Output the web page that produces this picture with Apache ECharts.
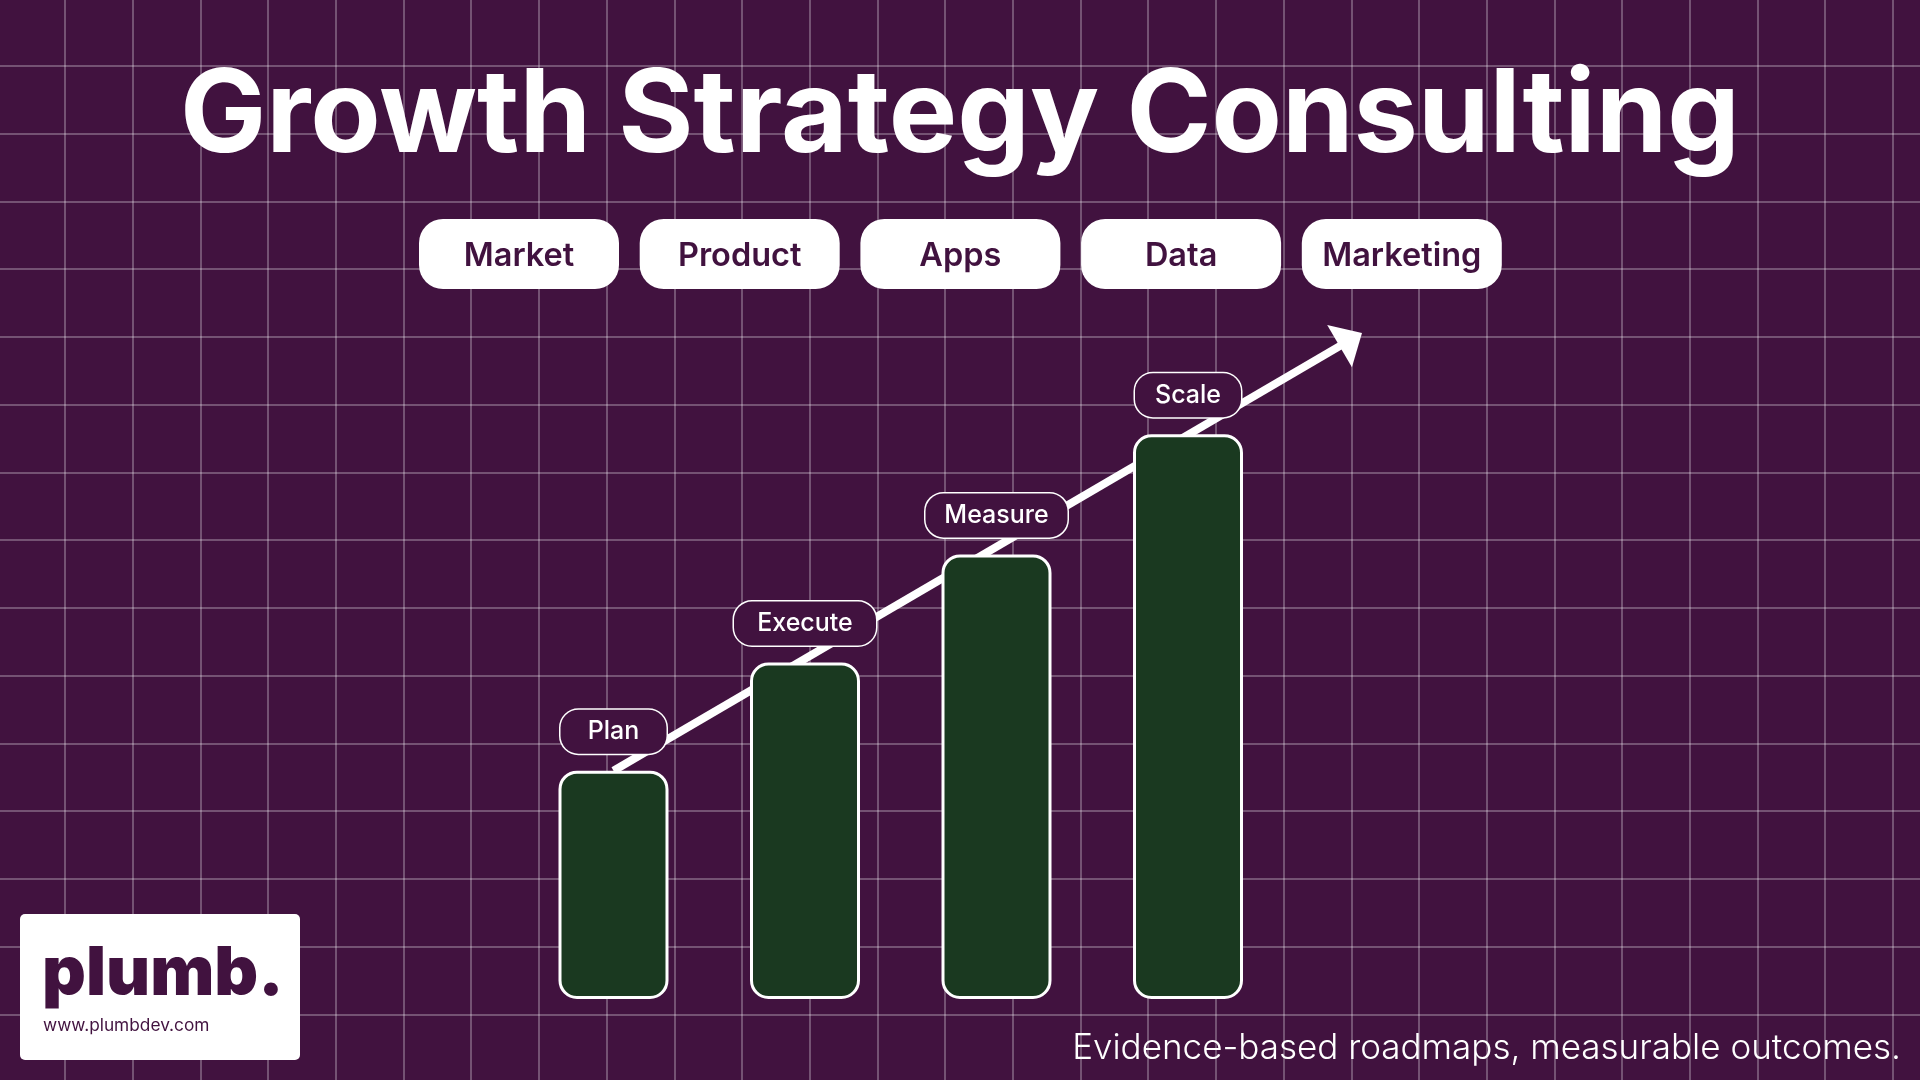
<!DOCTYPE html>
<html>
<head>
<meta charset="utf-8">
<title>Growth Strategy Consulting</title>
<style>
html,body{margin:0;padding:0;background:#41123f;}
#main{width:1920px;height:1080px;}
</style>
<script src="https://cdn.jsdelivr.net/npm/echarts@6/dist/echarts.min.js"></script>
</head>
<body>
<div id="main"></div>
<script>
// values
var stages=['Plan','Execute','Measure','Scale'];
var stageValues=[38,56,74,94];
var topics=['Market','Product','Apps','Data','Marketing'];
var arrowX=[0,3.85];
var arrowY=[38,109.75];

var FONT='Inter';
var PLUM='#41123f';
var GREEN='#1a3920';
var pillWidth={Plan:106,Execute:142,Measure:142,Scale:106};

var chart=echarts.init(document.getElementById('main'));

// top row of white pills
var pills=[];
topics.forEach(function(name,i){
    var x=419+i*220.7;
    pills.push({type:'rect',z:10,shape:{x:x,y:219,width:200,height:70,r:24},style:{fill:'#fff'}});
    pills.push({type:'text',z:11,x:x+100,y:256,style:{text:name,fill:PLUM,font:'600 32.5px '+FONT,textAlign:'center',textVerticalAlign:'middle'}});
});

var options={
    backgroundColor:PLUM,
    animation:false,
    grid:[
        {left:-2.7,top:-2,width:1963.3,height:1151.9,outerBoundsMode:'none'},
        {left:422,top:278,width:1149,height:721,outerBoundsMode:'none'}
    ],
    xAxis:[
        {gridIndex:0,type:'value',min:0,max:29,interval:1,
            axisLine:{show:false},axisTick:{show:false},axisLabel:{show:false},
            splitLine:{show:true,lineStyle:{color:'rgba(255,255,255,0.36)',width:1.5}}},
        {gridIndex:1,type:'value',min:-1,max:5,show:false,splitLine:{show:false}}
    ],
    yAxis:[
        {gridIndex:0,type:'value',min:0,max:17,interval:1,inverse:true,
            axisLine:{show:false},axisTick:{show:false},axisLabel:{show:false},
            splitLine:{show:true,lineStyle:{color:'rgba(255,255,255,0.36)',width:1.5}}},
        {gridIndex:1,type:'value',min:0,max:120,show:false,splitLine:{show:false}}
    ],
    series:[
        {
            // the arrow runs behind the bars
            name:'arrow',
            type:'line',
            xAxisIndex:1,
            yAxisIndex:1,
            z:2,
            silent:true,
            showSymbol:false,
            lineStyle:{opacity:0},
            data:[[arrowX[0],arrowY[0]],[arrowX[1],arrowY[1]]],
            markLine:{
                silent:true,
                animation:false,
                z:2,
                symbol:['none','triangle'],
                symbolSize:[49,26],
                label:{show:false},
                lineStyle:{color:'#fff',width:8,type:'solid',opacity:1},
                data:[[{coord:[arrowX[0],arrowY[0]]},{coord:[arrowX[1],arrowY[1]]}]]
            }
        },
        {
            name:'stage',
            type:'bar',
            xAxisIndex:1,
            yAxisIndex:1,
            z:3,
            barWidth:110,
            itemStyle:{color:GREEN,borderColor:'#fff',borderWidth:3,borderRadius:17},
            data:stages.map(function(name,i){
                return {
                    value:[i,stageValues[i]],
                    label:{
                        show:true,
                        position:'top',
                        distance:17,
                        formatter:name,
                        width:pillWidth[name],
                        height:44,
                        lineHeight:44,
                        align:'center',
                        color:'#fff',
                        fontFamily:FONT,
                        fontSize:25,
                        fontWeight:500,
                        backgroundColor:PLUM,
                        borderColor:'#fff',
                        borderWidth:1.5,
                        borderRadius:18
                    }
                };
            })
        }
    ],
    graphic:pills.concat([
        {type:'text',z:11,x:960,y:117,style:{text:'Growth Strategy Consulting',fill:'#fff',font:'700 115px '+FONT,textAlign:'center',textVerticalAlign:'middle'}},
        {type:'rect',z:10,shape:{x:20,y:914,width:280,height:146,r:5},style:{fill:'#fff'}},
        {type:'text',z:11,x:42,y:975,style:{text:'plumb.',fill:PLUM,font:'900 68px '+FONT,textAlign:'left',textVerticalAlign:'middle'}},
        {type:'text',z:11,x:43,y:1026,style:{text:'www.plumbdev.com',fill:PLUM,font:'400 17.3px '+FONT,textAlign:'left',textVerticalAlign:'middle'}},
        {type:'text',z:11,x:1901,y:1048,style:{text:'Evidence-based roadmaps, measurable outcomes.',fill:'#fff',font:'300 35px '+FONT,textAlign:'right',textVerticalAlign:'middle'}}
    ])
};
chart.setOption(options);
</script>
</body>
</html>
